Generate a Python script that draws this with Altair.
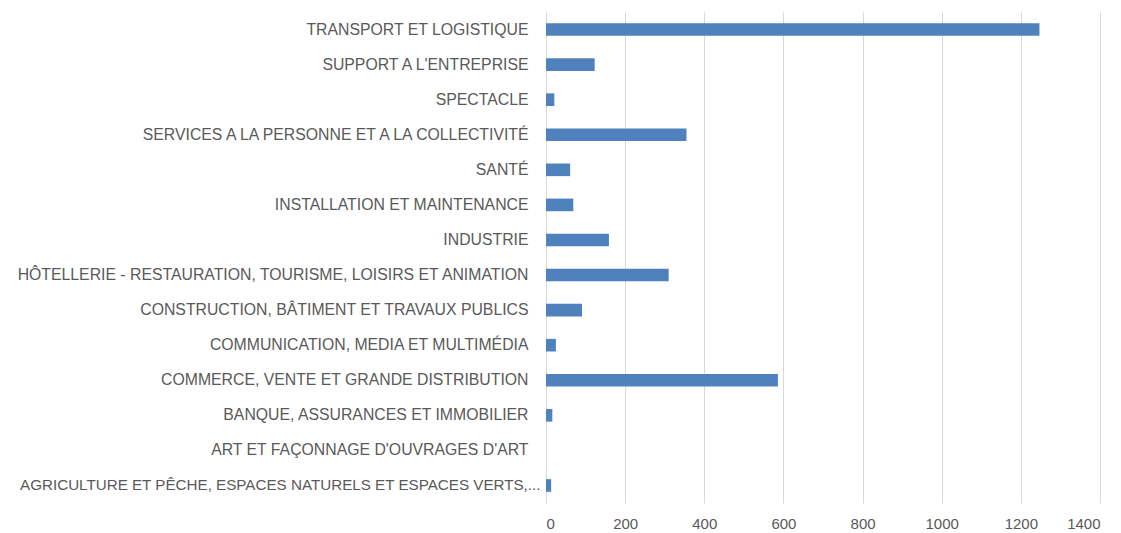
import altair as alt
import pandas as pd

categories = [
    "TRANSPORT ET LOGISTIQUE",
    "SUPPORT A L'ENTREPRISE",
    "SPECTACLE",
    "SERVICES A LA PERSONNE ET A LA COLLECTIVITÉ",
    "SANTÉ",
    "INSTALLATION ET MAINTENANCE",
    "INDUSTRIE",
    "HÔTELLERIE - RESTAURATION, TOURISME, LOISIRS ET ANIMATION",
    "CONSTRUCTION, BÂTIMENT ET TRAVAUX PUBLICS",
    "COMMUNICATION, MEDIA ET MULTIMÉDIA",
    "COMMERCE, VENTE ET GRANDE DISTRIBUTION",
    "BANQUE, ASSURANCES ET IMMOBILIER",
    "ART ET FAÇONNAGE D'OUVRAGES D'ART",
    "AGRICULTURE ET PÊCHE, ESPACES NATURELS ET ESPACES VERTS,...",
]
values = [1247, 123, 21, 355, 61, 69, 159, 310, 91, 25, 586, 16, 0, 13]
x_ticks = [0, 200, 400, 600, 800, 1000, 1200, 1400]

df = pd.DataFrame({"cat": categories, "val": values})

is_trunc = "indexof(datum.value, 'AGRICULTURE') === 0"

chart = (
    alt.Chart(df)
    .mark_bar(color="#4F81BD")
    .encode(
        y=alt.Y(
            "cat:N",
            sort=categories,
            title=None,
            scale=alt.Scale(paddingInner=0.64, paddingOuter=0.32),
            axis=alt.Axis(
                domain=False,
                ticks=False,
                labelPadding=alt.ExprRef(is_trunc + " ? 6 : 18"),
                labelFont="Liberation Sans",
                labelFontSize=alt.ExprRef(is_trunc + " ? 15.2 : 15.8"),
                labelColor="#595959",
                labelLimit=0,
                grid=False,
            ),
        ),
        x=alt.X(
            "val:Q",
            title=None,
            scale=alt.Scale(domain=[0, 1400], nice=False),
            axis=alt.Axis(
                values=x_ticks,
                format="d",
                domain=False,
                ticks=False,
                labelPadding=13,
                labelFont="Liberation Sans",
                labelFontSize=15,
                labelColor="#595959",
                grid=True,
                gridColor="#D9D9D9",
                gridWidth=1,
            ),
        ),
    )
    .properties(
        width=554,
        height=491,
        autosize=alt.AutoSizeParams(type="none"),
        padding={"left": 538, "top": 4, "right": 10, "bottom": 30},
    )
    .configure_view(stroke=None)
)

chart.save("out.html", embed_options={"renderer": "svg", "actions": False})
